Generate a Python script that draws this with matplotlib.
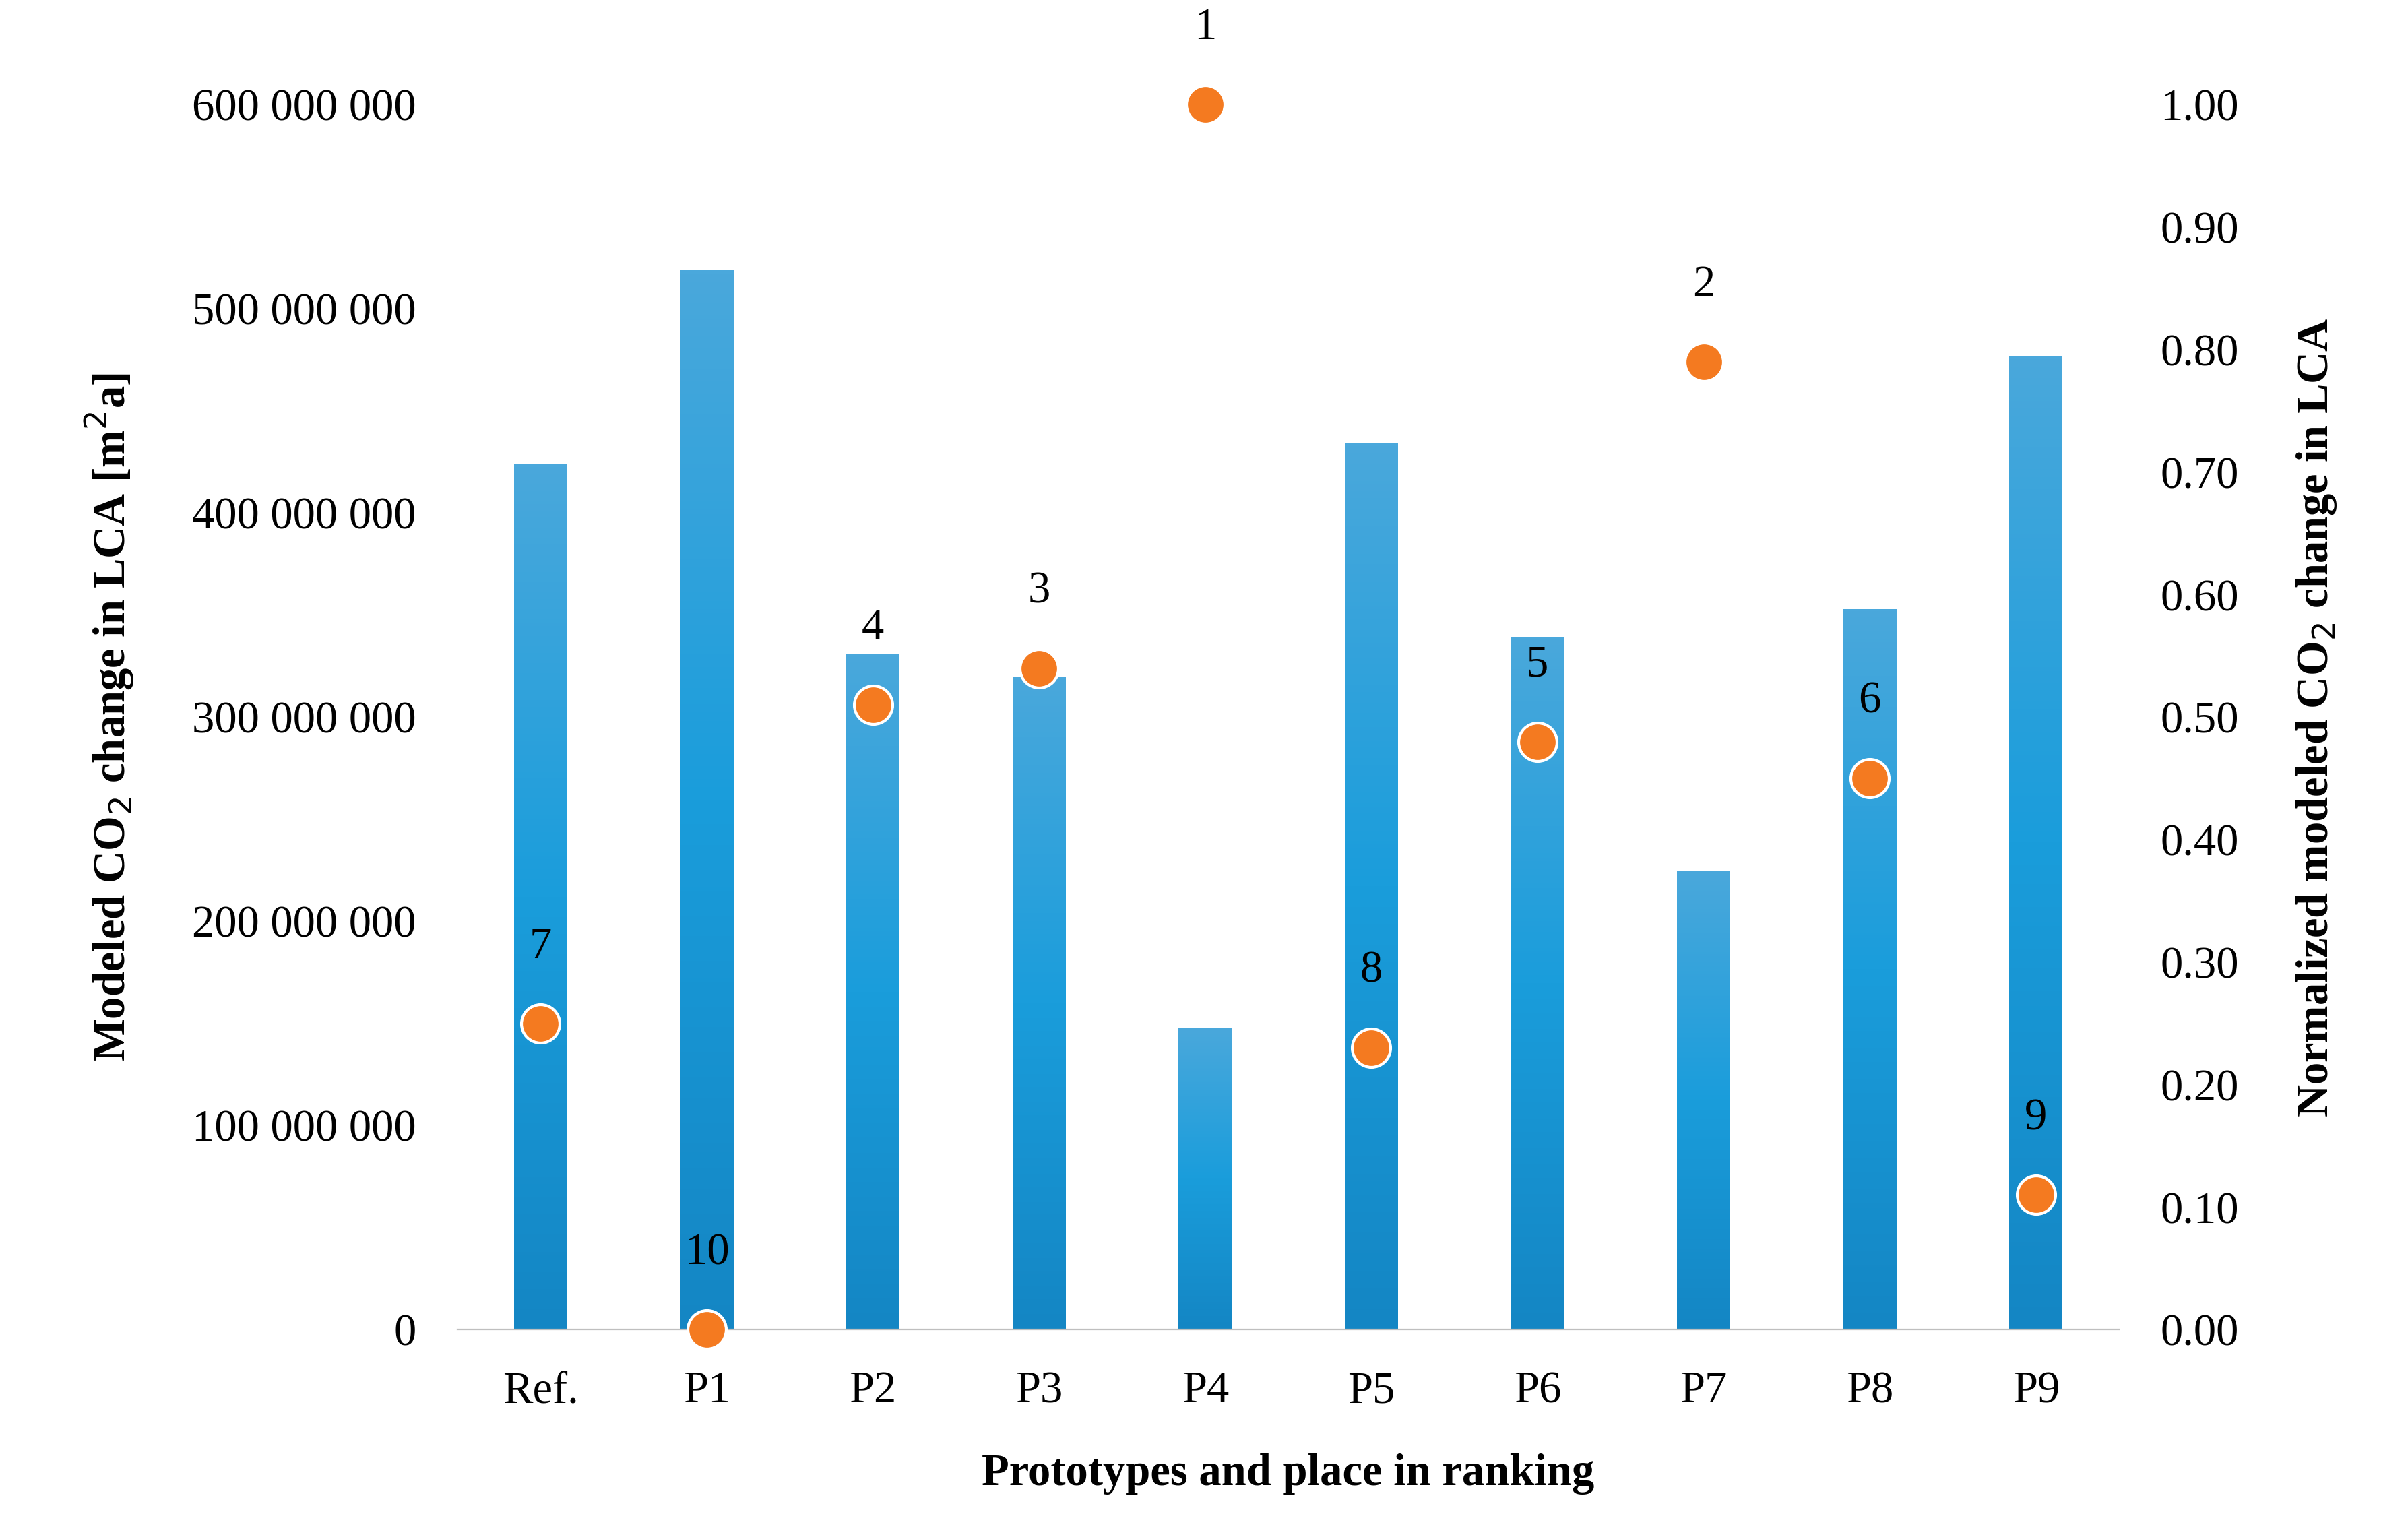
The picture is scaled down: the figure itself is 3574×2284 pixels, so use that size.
import matplotlib.pyplot as plt
import numpy as np
from matplotlib.colors import LinearSegmentedColormap

plt.rcParams['font.family'] = ['Liberation Serif', 'DejaVu Serif']

categories = ["Ref.", "P1", "P2", "P3", "P4", "P5", "P6", "P7", "P8", "P9"]
co2_change = [424e6, 519e6, 331e6, 320e6, 148e6, 434e6, 339e6, 225e6, 353e6, 477e6]
normalized = [0.25, 0.00, 0.51, 0.54, 1.00, 0.23, 0.48, 0.79, 0.45, 0.11]
ranking = [7, 10, 4, 3, 1, 8, 5, 2, 6, 9]

fig = plt.figure(figsize=(17.87, 11.42), dpi=200)
ax = fig.add_axes([0.19, 0.136, 0.69, 0.796])
x = np.arange(len(categories))

bars = ax.bar(x, co2_change, width=0.32, color="#1a9ad8", zorder=2)
# light vertical gradient on each bar
grad = np.linspace(0, 1, 256).reshape(-1, 1)
cmap = LinearSegmentedColormap.from_list("b", ["#1486c4", "#1a9ddb", "#4aa8dc"])
for b in bars:
    x0, w, h = b.get_x(), b.get_width(), b.get_height()
    im = ax.imshow(grad, extent=[x0, x0 + w, 0, h], origin="lower", cmap=cmap,
                   aspect="auto", zorder=2)
    im.set_clip_path(b)
ax.set_xlim(-0.5, len(categories) - 0.5)
ax.set_ylim(0, 600e6)
ax.set_yticks(np.arange(0, 600e6 + 1, 100e6))
ax.set_yticklabels(["0"] + [f"{int(v):,}".replace(",", " ") for v in np.arange(100e6, 600e6 + 1, 100e6)])
ax.set_xticks(x)
ax.set_xticklabels(categories)
for s in ["top", "right", "left"]:
    ax.spines[s].set_visible(False)
ax.spines["bottom"].set_color("#bfbfbf")
ax.tick_params(length=0, labelsize=24, pad=22)
ax.set_ylabel("Modeled CO$_2$ change in LCA [m$^2$a]", fontsize=24, fontweight="bold", labelpad=30)
ax.set_xlabel("Prototypes and place in ranking", fontsize=24, fontweight="bold", labelpad=22)

ax2 = ax.twinx()
ax2.set_ylim(0, 1.0)
ax2.set_yticks(np.arange(0, 1.01, 0.1))
ax2.set_yticklabels([f"{v:.2f}" for v in np.arange(0, 1.01, 0.1)])
for s in ["top", "right", "left", "bottom"]:
    ax2.spines[s].set_visible(False)
ax2.tick_params(length=0, labelsize=24, pad=22)
ax2.set_ylabel("Normalized modeled CO$_2$ change in LCA", fontsize=24, fontweight="bold", labelpad=30)
ax2.scatter(x, normalized, s=420, color="#f47a20", edgecolor="white", linewidth=1.5,
            zorder=5, clip_on=False)
for xi, yi, r in zip(x, normalized, ranking):
    ax2.annotate(str(r), (xi, yi), xytext=(0, 30), textcoords="offset points",
                 ha="center", va="bottom", fontsize=24, annotation_clip=False)

fig.savefig("out.png", dpi=200)
